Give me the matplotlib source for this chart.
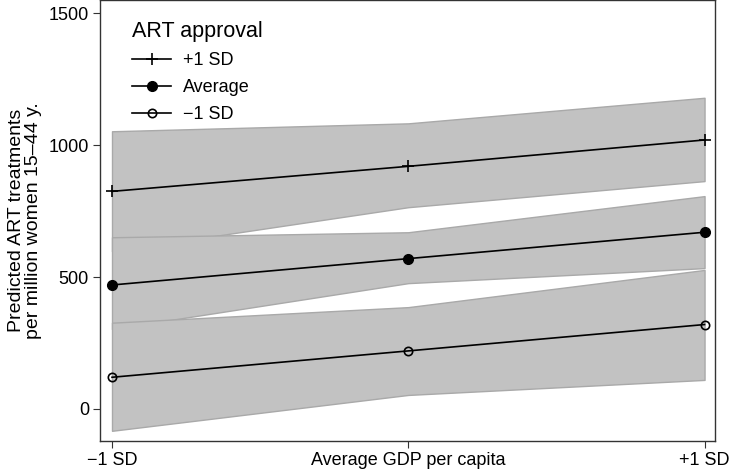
import matplotlib.pyplot as plt

plt.rcParams['font.family'] = ['Liberation Sans', 'DejaVu Sans']

# Data
x_labels = ['\u22121 SD', 'Average GDP per capita', '+1 SD']
x_pos = [0, 1, 2]

high_mean = [825, 920, 1020]
high_lo = [598, 765, 864]
high_hi = [1053, 1083, 1180]

avg_mean = [470, 570, 670]
avg_lo = [303, 477, 534]
avg_hi = [651, 670, 807]

low_mean = [120, 220, 320]
low_lo = [-83, 53, 110]
low_hi = [327, 386, 527]

fig = plt.figure(figsize=(7.31, 4.74), dpi=100)
ax = fig.add_axes([0.137, 0.07, 0.841, 0.929])

band = dict(facecolor='#c2c2c2', edgecolor='#a9a9a9', linewidth=1.0, zorder=1)
ax.fill_between(x_pos, high_lo, high_hi, **band)
ax.fill_between(x_pos, avg_lo, avg_hi, **band)
ax.fill_between(x_pos, low_lo, low_hi, **band)

ax.plot(x_pos, high_mean, color='black', lw=1.2, marker='+', ms=9, mew=1.2,
        label='+1 SD', zorder=3)
ax.plot(x_pos, avg_mean, color='black', lw=1.2, marker='o', ms=7,
        label='Average', zorder=3)
ax.plot(x_pos, low_mean, color='black', lw=1.2, marker='o', ms=6, mfc='none',
        mew=1.2, label='\u22121 SD', zorder=3)

ax.set_xlim(-0.04, 2.035)
ax.set_ylim(-121, 1549)
ax.set_xticks(x_pos)
ax.set_xticklabels(x_labels)
ax.set_yticks([0, 500, 1000, 1500])
ax.tick_params(labelsize=13, length=5, width=0.8, color='#333333', pad=3)
ax.set_ylabel('Predicted ART treatments\nper million women 15\u201344 y.',
              fontsize=14, labelpad=5, linespacing=1.0)
for s in ax.spines.values():
    s.set_color('#333333')
    s.set_linewidth(1.0)

leg = ax.legend(loc='upper left', bbox_to_anchor=(0.025, 0.99), frameon=False,
                title='ART approval', title_fontsize=15.5, fontsize=13,
                handlelength=2.2, handletextpad=0.65, labelspacing=0.55,
                alignment='left')

fig.savefig('out.png', dpi=100)
